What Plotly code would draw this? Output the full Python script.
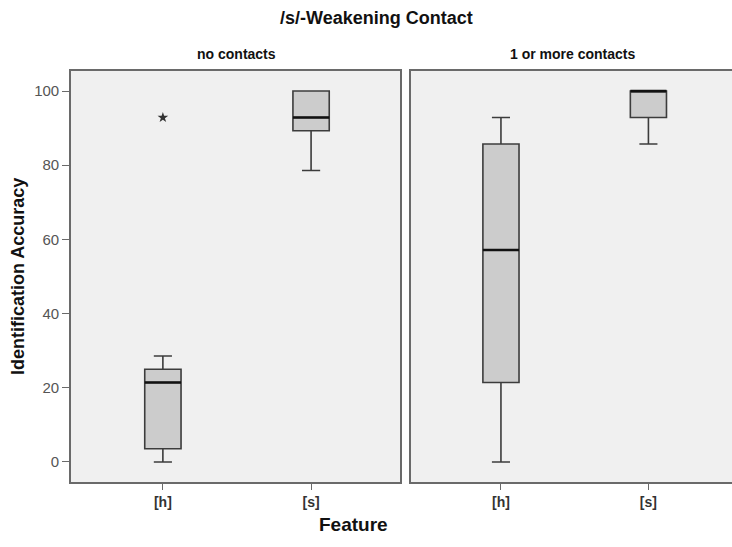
import plotly.graph_objects as go

# ---- data ----
panels = ["no contacts", "1 or more contacts"]
features = ["[h]", "[s]"]
# per panel, per feature: lower whisker, q1, median, q3, upper whisker
lower = [[0.0, 78.57], [0.0, 85.71]]
q1 = [[3.57, 89.29], [21.43, 92.86]]
median = [[21.43, 92.86], [57.14, 100.0]]
q3 = [[25.0, 100.0], [85.71, 100.0]]
upper = [[28.57, 100.0], [92.86, 100.0]]
outlier_panel = [0]
outlier_feature = [0]
outlier_value = [92.86]

yticks = [0, 20, 40, 60, 80, 100]

# the right panel runs past the visible edge in the reference
FW, FH = 745, 547
ML, MR, MT, MB = 71, 1, 71, 65
W = FW - ML - MR
H = FH - MT - MB

BOXW = 0.245
fig = go.Figure()
xaxes = ["x", "x2"]
yaxes = ["y", "y2"]
for p in range(2):
    for f in range(2):
        fig.add_trace(go.Box(
            x=[f], q1=[q1[p][f]], median=[median[p][f]], q3=[q3[p][f]],
            lowerfence=[lower[p][f]], upperfence=[upper[p][f]],
            width=BOXW, whiskerwidth=0.5,
            fillcolor="#cccccc", line=dict(color="#3c3c3c", width=1.6),
            boxpoints=False, showlegend=False, hoverinfo="skip",
            xaxis=xaxes[p], yaxis=yaxes[p]))
        fig.add_trace(go.Scatter(
            x=[f - BOXW / 2, f + BOXW / 2], y=[median[p][f]] * 2,
            mode="lines", line=dict(color="#111111", width=2.6),
            showlegend=False, hoverinfo="skip",
            xaxis=xaxes[p], yaxis=yaxes[p]))

for p, f, v in zip(outlier_panel, outlier_feature, outlier_value):
    fig.add_trace(go.Scatter(
        x=[f], y=[v], mode="markers",
        marker=dict(symbol="star", size=8, color="#333333"),
        showlegend=False, hoverinfo="skip",
        xaxis=xaxes[p], yaxis=yaxes[p]))

frame = dict(showline=True, mirror=True, linecolor="#6a6a6a", linewidth=1.8,
             showgrid=False, zeroline=False)
xcommon = dict(tickmode="array", tickvals=[0, 1], ticktext=["<b>%s</b>" % t for t in features],
               ticks="outside", ticklen=6, tickcolor="#6a6a6a", tickwidth=1,
               tickfont=dict(family="Liberation Sans, Arial", size=14, color="#333333"),
               **frame)
ycommon = dict(range=[-5.4, 105.4], tickvals=yticks, **frame)

left_end = (400 - ML) / W
right_start = (411 - ML) / W
right_px = FW - MR - 411
right_range_max = -0.61 + right_px * 2.17 / 320

fig.update_layout(
    width=FW, height=FH, autosize=False,
    margin=dict(l=ML, r=MR, t=MT, b=MB, autoexpand=False),
    paper_bgcolor="white", plot_bgcolor="#f0f0f0",
    font=dict(family="Liberation Sans, Arial", color="#222222"),
    xaxis=dict(domain=[0, left_end], range=[-0.62, 1.60], **xcommon),
    xaxis2=dict(domain=[right_start, 1.0], range=[-0.61, right_range_max], **xcommon),
    yaxis=dict(anchor="x", ticks="outside", ticklen=7, tickcolor="#6a6a6a",
               tickfont=dict(size=15, color="#555555"), **ycommon),
    yaxis2=dict(anchor="x2", showticklabels=False, ticks="", **ycommon),
)

def px_x(px):
    return (px - ML) / W
def px_y(py):
    return (FH - MB - py) / H

def ann(text, x, y, size, angle=0):
    fig.add_annotation(text=text, x=px_x(x), y=px_y(y), xref="paper", yref="paper",
                       xanchor="center", yanchor="middle", showarrow=False,
                       textangle=angle, font=dict(size=size, color="#111111"))

ann("<b>/s/-Weakening Contact</b>", 376, 18, 18)
ann("<b>" + panels[0] + "</b>", 236, 54, 14)
ann("<b>" + panels[1] + "</b>", 572, 54, 14)
ann("<b>Feature</b>", 353, 524, 19)
ann("<b>Identification Accuracy</b>", 18, 277, 18, angle=-90)

fig.write_html("out.html", config={"displayModeBar": False, "staticPlot": True},
               post_script="document.body.style.margin='0';document.body.style.overflow='hidden';")
